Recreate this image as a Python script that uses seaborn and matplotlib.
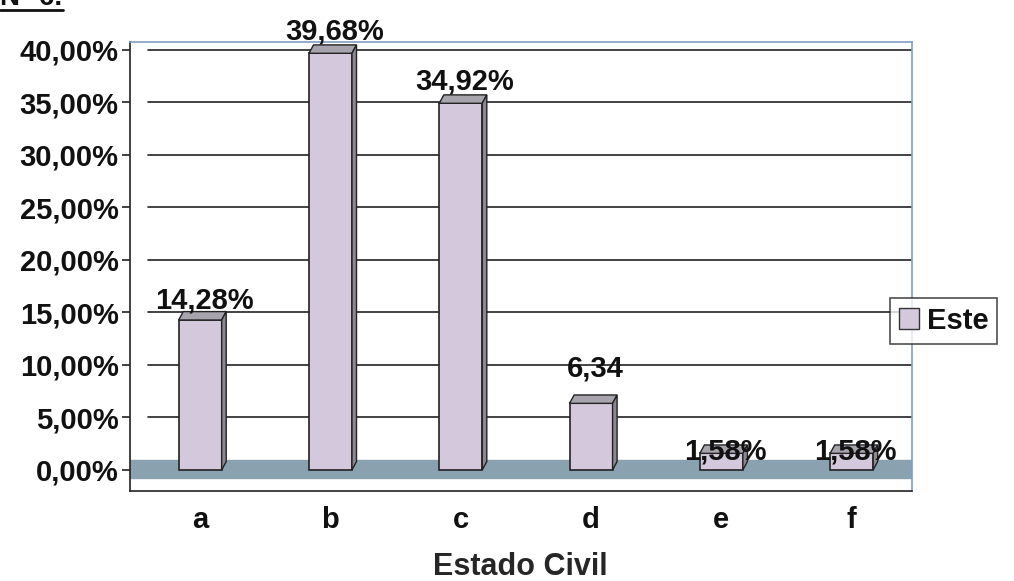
import matplotlib.pyplot as plt
import pandas as pd
import seaborn as sns
from matplotlib.lines import Line2D
from matplotlib.patches import Polygon

categories = ["a", "b", "c", "d", "e", "f"]
values = [14.28, 39.68, 34.92, 6.34, 1.58, 1.58]
labels = ["14,28%", "39,68%", "34,92%", "6,34", "1,58%", "1,58%"]
yticks = [0, 5, 10, 15, 20, 25, 30, 35, 40]
ytick_labels = ["0,00%", "5,00%", "10,00%", "15,00%", "20,00%",
                "25,00%", "30,00%", "35,00%", "40,00%"]

sns.set_theme(style="white")
plt.rcParams["font.family"] = ["Liberation Sans", "DejaVu Sans"]
plt.rcParams["font.weight"] = "bold"
plt.rcParams["text.color"] = "#111111"
plt.rcParams["xtick.color"] = "#111111"
plt.rcParams["ytick.color"] = "#111111"

df = pd.DataFrame({"Estado Civil": categories, "valor": values})

fig = plt.figure(figsize=(10.14, 5.81), dpi=100)
ax = fig.add_axes([0.128, 0.155, 0.771, 0.7735])

bar_color = "#d4c9dc"

sns.barplot(data=df, x="Estado Civil", y="valor", color=bar_color,
            width=0.33, edgecolor="#222222", linewidth=1.2, saturation=1,
            ax=ax, zorder=2)

# floor band under the bars
ax.axhspan(-0.8, 0.9, color="#8aa2b0", zorder=0.5)

# simple 3D look: top and side faces from each bar
dx, dy = 0.035, 0.8
for p in ax.containers[0]:
    x0, w, h = p.get_x(), p.get_width(), p.get_height()
    top = Polygon([(x0, h), (x0 + dx, h + dy), (x0 + w + dx, h + dy), (x0 + w, h)],
                  closed=True, facecolor="#a8a4ae", edgecolor="#222222", lw=1.0, zorder=2)
    side = Polygon([(x0 + w, 0), (x0 + w + dx, dy), (x0 + w + dx, h + dy), (x0 + w, h)],
                   closed=True, facecolor="#8d8794", edgecolor="#222222", lw=1.0, zorder=2)
    ax.add_patch(top)
    ax.add_patch(side)

label_offsets = [1.1, 1.3, 1.3, 2.6, -0.6, -0.6]
for i, (v, t) in enumerate(zip(values, labels)):
    ax.text(i + 0.03, v + label_offsets[i], t, ha="center", va="baseline",
            fontsize=21, fontweight="bold", color="#111111", zorder=3)

ax.set_xlim(-0.54, 5.46)
ax.set_ylim(-2, 40.8)
ax.set_yticks(yticks)
ax.set_yticklabels(ytick_labels, fontsize=21, fontweight="bold")
for y in yticks[1:]:
    ax.axhline(y, xmin=0.023, color="#222222", lw=1.2, zorder=1)

ax.tick_params(axis="x", length=0, labelsize=21, pad=11)
ax.set_xticks([0.46, 1.46, 2.46, 3.46, 4.46, 5.44], minor=True)
ax.tick_params(axis="x", which="minor", direction="out", length=7, color="#222222", width=1.2)
ax.tick_params(axis="y", direction="out", length=6, color="#222222", width=1.2, left=True, pad=2)
for lab in ax.get_xticklabels():
    lab.set_fontweight("bold")

ax.set_xlabel("Estado Civil", fontsize=22, fontweight="bold", labelpad=13)
ax.set_ylabel("")

for s in ["left", "bottom"]:
    ax.spines[s].set_color("#222222")
    ax.spines[s].set_linewidth(1.2)
for s in ["top", "right"]:
    ax.spines[s].set_color("#7f9fc0")
    ax.spines[s].set_linewidth(1.2)

handle = plt.Rectangle((0, 0), 1, 1, facecolor=bar_color, edgecolor="#333333")
leg = fig.legend([handle], ["Este"], loc="upper left", bbox_to_anchor=(0.878, 0.487),
                 frameon=True, fancybox=False, fontsize=21, handlelength=0.7,
                 handleheight=0.7, borderpad=0.3, handletextpad=0.25, borderaxespad=0)
leg.get_frame().set_edgecolor("#222222")
leg.get_frame().set_linewidth(1.2)
for t in leg.get_texts():
    t.set_fontweight("bold")

fig.text(0.0, 0.992, "N° 6.", fontsize=20, fontweight="bold", va="baseline", ha="left")
fig.add_artist(Line2D([0.0, 0.062], [0.983, 0.983], color="#111111", lw=2))

plt.savefig("out.png", dpi=100)
